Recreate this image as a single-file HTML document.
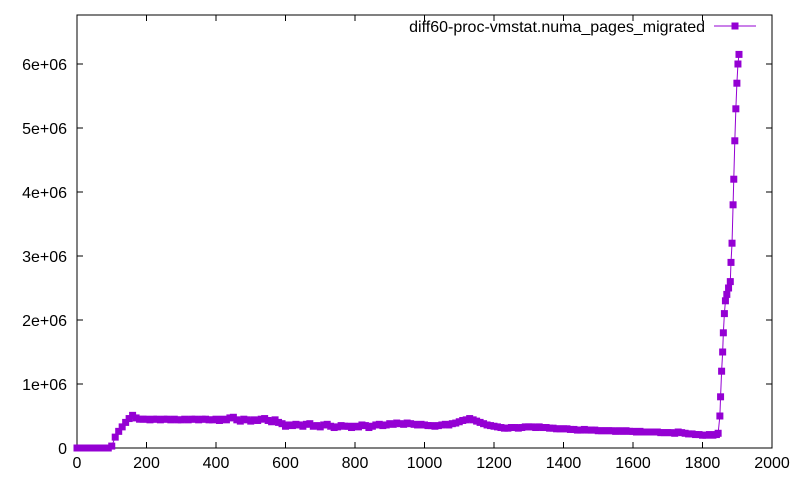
<!DOCTYPE html>
<html><head><meta charset="utf-8"><style>
body{margin:0;background:#fff}
svg{display:block;font-family:"Liberation Sans",sans-serif}
</style></head><body>
<svg id="chart" width="800" height="480" xmlns="http://www.w3.org/2000/svg">
<rect x="0" y="0" width="800" height="480" fill="#fff"/>
<g id="axes"></g>
<g id="series"></g>
<g id="legend">
<text x="705" y="32" text-anchor="end" font-size="16" fill="#000">diff60-proc-vmstat.numa_pages_migrated</text>
<line x1="714" y1="26" x2="756" y2="26" stroke="#9400d3" stroke-width="1"/>
<rect x="731.5" y="22.5" width="7" height="7" fill="#9400d3"/>
</g>
</svg>
<script>
const xTicks=[0,200,400,600,800,1000,1200,1400,1600,1800,2000];
const yTicks=[0,1e6,2e6,3e6,4e6,5e6,6e6];
const yTickLabels=["0","1e+06","2e+06","3e+06","4e+06","5e+06","6e+06"];
const regularValuesK=[0,0,0,0,0,0,0,0,0,0,
30,170,260,330,400,460,510,470,450,450,
450,440,450,450,440,450,450,440,450,440,
440,450,440,450,450,440,450,450,440,440,
450,430,450,440,470,480,440,420,450,440,
420,440,430,450,460,430,410,440,400,380,
340,360,350,370,360,340,370,380,340,350,
330,360,370,340,320,330,350,340,340,320,
340,330,360,350,320,340,360,370,350,360,
380,370,390,380,370,390,380,370,360,370,
360,350,350,340,350,360,370,360,380,390,
410,430,440,460,440,420,400,380,360,350,
340,330,320,310,310,320,320,310,320,330,
330,330,320,330,320,320,310,310,300,300,
300,300,290,290,280,280,290,280,280,280,
270,270,270,270,270,260,270,260,270,260,
260,250,260,250,250,250,250,250,240,240,
240,240,230,250,240,230,220,220,210,210,
200,200,210,200,210];
const spikeX=[1845,1850,1852,1855,1858,1860,1863,1866,1870,1875,1880,1882,1885,1888,1890,1893,1896,1899,1902,1905];
const spikeValuesK=[230,500,800,1200,1500,1800,2100,2300,2400,2500,2600,2900,3200,3800,4200,4800,5300,5700,6000,6150];

const X0=77,X1=772,Y0=448,Ytop=15;
const sx=v=>X0+(v/2000)*(X1-X0);
const sy=v=>Y0-(v/6e6)*384;
const NS="http://www.w3.org/2000/svg";
function mk(tag,attrs,parent){const e=document.createElementNS(NS,tag);for(const k in attrs)e.setAttribute(k,attrs[k]);parent.appendChild(e);return e;}
const axes=document.getElementById('axes');
const frame=mk('rect',{x:X0,y:Ytop,width:X1-X0,height:Y0-Ytop,fill:'none',stroke:'#000','stroke-width':1},axes);


xTicks.forEach(t=>{
  const x=sx(t);
  const l=mk('path',{d:`M${x},${Y0}v-6M${x},${Ytop}v6`,stroke:'#000','stroke-width':1},axes);
  
  
  const tx=mk('text',{x:x,y:Y0+20,'text-anchor':'middle','font-size':16,fill:'#000'},axes);
  tx.textContent=String(t);
  
  
});
yTicks.forEach((t,i)=>{
  const y=sy(t);
  const l=mk('path',{d:`M${X0},${y}h6M${X1},${y}h-6`,stroke:'#000','stroke-width':1},axes);
  
  
  const tx=mk('text',{x:X0-10,y:y+6,'text-anchor':'end','font-size':16,fill:'#000'},axes);
  tx.textContent=yTickLabels[i];
  
  
});
const pts=[];
regularValuesK.forEach((v,i)=>pts.push([i*10,v*1000]));
spikeX.forEach((x,i)=>pts.push([x,spikeValuesK[i]*1000]));
const g=document.getElementById('series');
const line=mk('polyline',{points:pts.map(p=>sx(p[0])+','+sy(p[1])).join(' '),fill:'none',stroke:'#9400d3','stroke-width':1},g);


pts.forEach(p=>{
  const r=mk('rect',{x:sx(p[0])-3.5,y:sy(p[1])-3.5,width:7,height:7,fill:'#9400d3'},g);
  
  
});
</script>
</body></html>
